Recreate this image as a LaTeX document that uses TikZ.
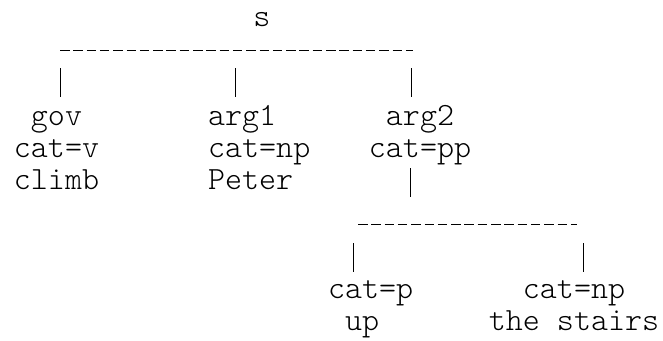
\documentclass[tikz,border=0pt]{standalone}
\usepackage{fontspec}
\newfontfamily\thinmono{lmmonolt10-regular.otf}
\begin{document}
\begin{tikzpicture}[x=1pt,y=-1pt,
	word/.style={font=\thinmono\fontsize{32.4}{32}\selectfont,inner sep=0pt},
	bar/.style={line width=1pt,dash pattern=on 9.5pt off 3.8pt},
	stem/.style={line width=1pt}]
		\useasboundingbox (0,0) rectangle (663,340);
		\node[word,anchor=base] (s) at (262,27) {s};
		\node[word,anchor=north,align=center] (gov) at (56.5,102.6) {\strut gov\\cat=v\\climb};
		\node[word,anchor=north west,align=left] (arg1) at (208,102.6) {\strut arg1\\cat=np\\Peter};
		\node[word,anchor=north,align=center] (arg2) at (420,102.6) {\strut arg2\\cat=pp};
		\node[word,anchor=north west,align=left] (catp) at (328,275.6) {\strut cat=p\\\hphantom{c}up};
		\node[word,anchor=north,align=center] (catnp) at (574,275.6) {\strut cat=np\\the stairs};
		% upper level
		\coordinate (sl) at (60,50);
		\coordinate (sr) at (413,50);
		\draw[bar] (sl) -- (sr);
		\draw[stem] (60,68) coordinate (gov-t) -- (60,97) coordinate (gov-b);
		\draw[stem] (235,68) coordinate (arg1-t) -- (235,97) coordinate (arg1-b);
		\draw[stem] (411,68) coordinate (arg2-t) -- (411,97) coordinate (arg2-b);
		% lower level
		\draw[stem] (410,168) coordinate (pp-t) -- (410,197) coordinate (pp-b);
		\coordinate (ppl) at (358,224);
		\coordinate (ppr) at (577,224);
		\draw[bar] (ppl) -- (ppr);
		\draw[stem] (353,243) coordinate (catp-t) -- (353,272) coordinate (catp-b);
		\draw[stem] (583,243) coordinate (catnp-t) -- (583,272) coordinate (catnp-b);
\end{tikzpicture}
\end{document}
